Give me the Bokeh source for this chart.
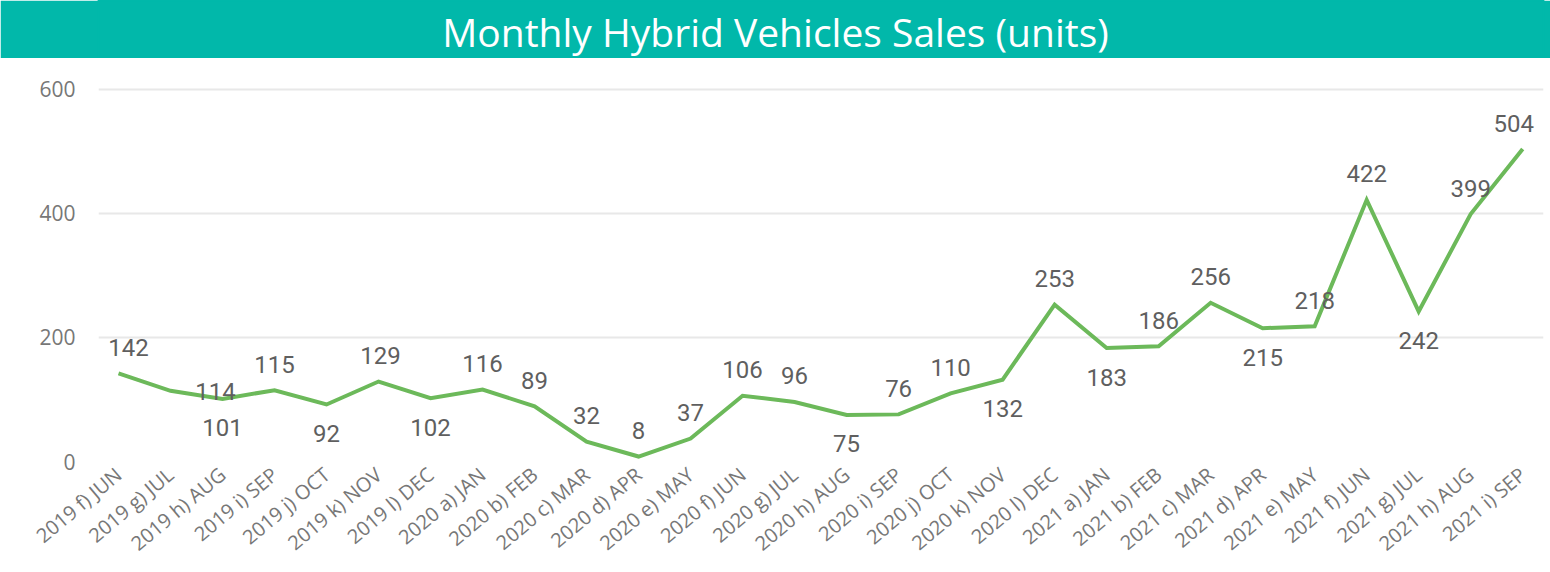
from bokeh.plotting import figure
from bokeh.layouts import column
from bokeh.models import Range1d, FixedTicker, Label
from bokeh.core.properties import value
from bokeh.embed import file_html
from bokeh.resources import INLINE
import math

# ---- data ----
months = ["2019 f) JUN", "2019 g) JUL", "2019 h) AUG", "2019 i) SEP", "2019 j) OCT",
          "2019 k) NOV", "2019 l) DEC", "2020 a) JAN", "2020 b) FEB", "2020 c) MAR",
          "2020 d) APR", "2020 e) MAY", "2020 f) JUN", "2020 g) JUL", "2020 h) AUG",
          "2020 i) SEP", "2020 j) OCT", "2020 k) NOV", "2020 l) DEC", "2021 a) JAN",
          "2021 b) FEB", "2021 c) MAR", "2021 d) APR", "2021 e) MAY", "2021 f) JUN",
          "2021 g) JUL", "2021 h) AUG", "2021 i) SEP"]
sales = [142, 114, 101, 115, 92, 129, 102, 116, 89, 32, 8, 37, 106, 96, 75, 76,
         110, 132, 253, 183, 186, 256, 215, 218, 422, 242, 399, 504]
y_ticks = [0, 200, 400, 600]

# ---- label placement (style) ----
A, B = -26, 29
lab_dy = [A, 1, B, A, B, A, B, A, A, A, A, A, A, A, B, A, A, B, A, B, A, A, B, A, A, B, A, A]
lab_dx = [10, 45, 0, 0, 0, 2, 0, 0, 0, 0, 0, 0, 0, 0, 0, 0, 0, 0, 0, 0, 0, 0, 0, 0, 0, 0, 0, -9]

TEAL = "#01B8AA"
GREEN = "#6CB95A"

# title bar
t = figure(width=1550, height=58, x_range=(0, 1), y_range=(0, 1),
           output_backend="svg", toolbar_location=None,
           min_border=0, background_fill_color=TEAL, border_fill_color=TEAL,
           outline_line_color=TEAL, outline_line_width=2)
t.axis.visible = False
t.grid.visible = False
t.add_layout(Label(x=0.4685, y=0.47, text="Monthly Hybrid Vehicles Sales (units)",
                   text_align="center", text_baseline="middle",
                   text_color="white", text_font="Open Sans", text_font_size="39px"))

xs = list(range(len(months)))
p = figure(frame_width=1445, frame_height=396,
           x_range=Range1d(-0.385, len(months) - 1 + 0.4),
           y_range=Range1d(0, 638.7),
           output_backend="svg", toolbar_location=None,
           min_border_left=98, min_border_right=7, min_border_top=7, min_border_bottom=111,
           outline_line_color=None, background_fill_color="white")

p.line(xs, sales, line_color=GREEN, line_width=4, line_join="miter")
p.text(xs, sales, text=[str(v) for v in sales], x_offset=lab_dx, y_offset=lab_dy,
       text_align="center", text_baseline="middle", text_color="#5F5F5F",
       text_font=value("Roboto"), text_font_size="24px")

p.xaxis.ticker = FixedTicker(ticks=xs)
p.xaxis.major_label_overrides = {i: m for i, m in enumerate(months)}
p.xaxis.major_label_orientation = math.radians(40)
p.yaxis.ticker = FixedTicker(ticks=y_ticks)
for ax in (p.xaxis, p.yaxis):
    ax.axis_line_color = None
    ax.major_tick_line_color = None
    ax.minor_tick_line_color = None
    ax.major_label_text_color = "#777777"
    ax.major_label_text_font = "Open Sans"
p.xaxis.major_label_text_font_size = "20px"
p.yaxis.major_label_text_font_size = "21px"
p.xaxis.major_label_standoff = 4
p.yaxis.major_label_standoff = 17
p.xgrid.visible = False
p.ygrid.grid_line_color = "#E8E8E8"
p.ygrid.grid_line_width = 2

layout = column(t, p, spacing=0)
open("out.html", "w").write(file_html(layout, INLINE))
